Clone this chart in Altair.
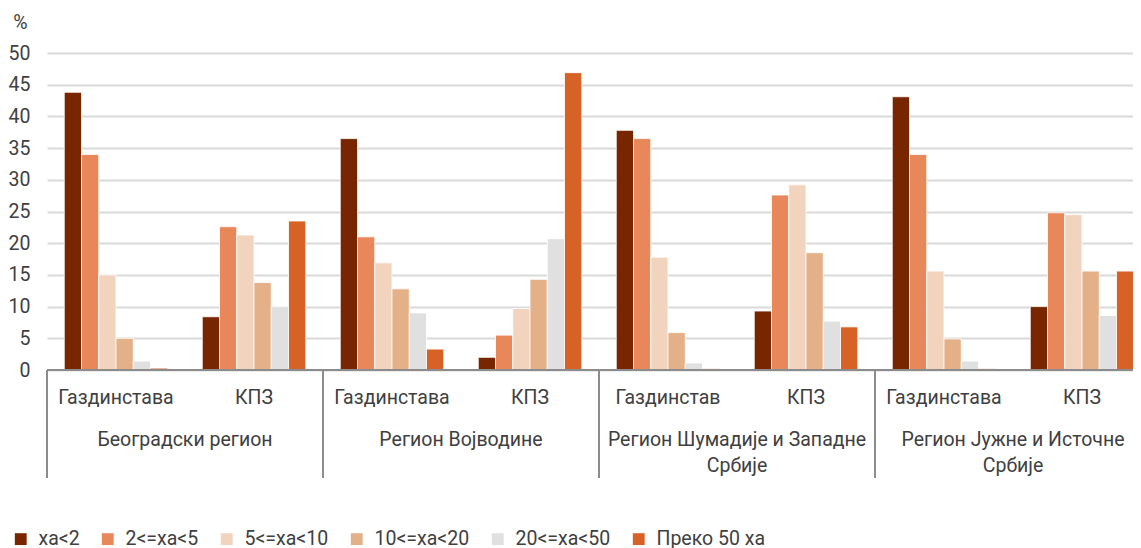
import altair as alt
import pandas as pd

# ---------------- data ----------------
regions = [
    "Београдски регион",
    "Регион Војводине",
    "Регион Шумадије и Западне\nСрбије",
    "Регион Јужне и Источне\nСрбије",
]
sub_labels = [
    ["Газдинстава", "КПЗ"],
    ["Газдинстава", "КПЗ"],
    ["Газдинстав", "КПЗ"],
    ["Газдинстава", "КПЗ"],
]
classes = ["ха<2", "2<=ха<5", "5<=ха<10", "10<=ха<20", "20<=ха<50", "Преко 50 ха"]
colors = ["#772600", "#E8875A", "#F2D4BE", "#E3B088", "#E0E0E0", "#D66226"]

beograd_gazd = [43.8, 34.0, 15.0, 5.0, 1.4, 0.3]
beograd_kpz = [8.4, 22.6, 21.3, 13.8, 10.0, 23.5]
vojvodina_gazd = [36.5, 21.0, 16.9, 12.8, 9.0, 3.3]
vojvodina_kpz = [2.0, 5.5, 9.7, 14.3, 20.7, 46.9]
sumadija_gazd = [37.8, 36.5, 17.8, 5.9, 1.1, 0.2]
sumadija_kpz = [9.3, 27.6, 29.2, 18.5, 7.7, 6.8]
jug_gazd = [43.1, 34.0, 15.6, 4.9, 1.4, 0.2]
jug_kpz = [10.0, 24.8, 24.5, 15.6, 8.6, 15.6]

y_ticks = [0, 5, 10, 15, 20, 25, 30, 35, 40, 45, 50]

series = [
    [beograd_gazd, beograd_kpz],
    [vojvodina_gazd, vojvodina_kpz],
    [sumadija_gazd, sumadija_kpz],
    [jug_gazd, jug_kpz],
]

# ---------------- tables ----------------
grp_order = [f"{r}-{s}" for r in range(4) for s in range(2)]
rows = []
for r in range(4):
    for s in range(2):
        for c, cls in enumerate(classes):
            rows.append({"grp": f"{r}-{s}", "cls": cls, "val": series[r][s][c]})
df = pd.DataFrame(rows)

sub_df = pd.DataFrame(
    [{"grp": f"{r}-{s}", "lab": sub_labels[r][s]} for r in range(4) for s in range(2)]
)
reg_df = pd.DataFrame([{"grp": f"{r}-1", "lab": regions[r]} for r in range(4)])
sep_df = pd.DataFrame([{"grp": f"{r}-0"} for r in range(4)])
base_df = pd.DataFrame({"v": [0]})

FONT = "Roboto"
FS = 19.5
TXT = "#404040"
W = 1086
H = 317

xscale = alt.Scale(domain=grp_order, paddingInner=0, paddingOuter=0, range=[0, 1104])
yscale = alt.Scale(domain=[0, 50], nice=False)

y_axis = alt.Axis(values=y_ticks, tickCount=11, labelOverlap=False,
                  title="%", titleAngle=0, titleX=-27, titleY=-31,
                  titleAlign="center", titleBaseline="middle",
                  titleFont=FONT, titleFontSize=FS, titleFontWeight="normal",
                  titleColor=TXT, labelFont=FONT, labelFontSize=FS,
                  labelColor=TXT, labelPadding=17, ticks=False, domain=False,
                  grid=True, gridColor="#d9d9d9", gridWidth=2)

bars = alt.Chart(df).mark_bar(stroke="white", strokeWidth=0.8).encode(
    x=alt.X("grp:N", scale=xscale, axis=None, title=None),
    xOffset=alt.XOffset("cls:N", sort=classes,
                        scale=alt.Scale(domain=classes, paddingInner=0, paddingOuter=1)),
    y=alt.Y("val:Q", scale=yscale, axis=y_axis),
    color=alt.Color("cls:N", sort=classes,
                    scale=alt.Scale(domain=classes, range=colors),
                    legend=alt.Legend(title=None, orient="none", direction="horizontal",
                                      legendX=-36, legendY=476, symbolType="square",
                                      symbolSize=140, symbolStrokeWidth=0,
                                      labelFont=FONT, labelFontSize=FS, labelColor=TXT,
                                      labelOffset=8, columnPadding=18)),
)

baseline = alt.Chart(base_df).mark_rule(color="#8c8c8c", strokeWidth=2).encode(
    y=alt.Y("v:Q", scale=yscale, axis=y_axis)
)

seps = alt.Chart(sep_df).mark_rule(color="#8c8c8c", strokeWidth=2).encode(
    x=alt.X("grp:N", scale=xscale, bandPosition=0, axis=None),
    y=alt.value(H),
    y2=alt.value(H + 108),
)

sub_text = alt.Chart(sub_df).mark_text(
    font=FONT, fontSize=FS, color=TXT, baseline="middle", align="center"
).encode(
    x=alt.X("grp:N", scale=xscale, axis=None),
    y=alt.value(H + 28),
    text="lab:N",
)

reg_text = alt.Chart(reg_df).mark_text(
    font=FONT, fontSize=FS, color=TXT, baseline="top", align="center",
    lineBreak="\n", lineHeight=26,
).encode(
    x=alt.X("grp:N", scale=xscale, bandPosition=0, axis=None),
    y=alt.value(H + 61),
    text="lab:N",
)

chart = alt.layer(bars, baseline, seps, sub_text, reg_text).properties(
    width=W, height=H,
    autosize=alt.AutoSizeParams(type="none"),
    padding={"left": 39, "top": 45, "right": 0, "bottom": 180},
).configure_view(stroke=None)

chart.save("out.html", embed_options={"renderer": "svg", "actions": False})
